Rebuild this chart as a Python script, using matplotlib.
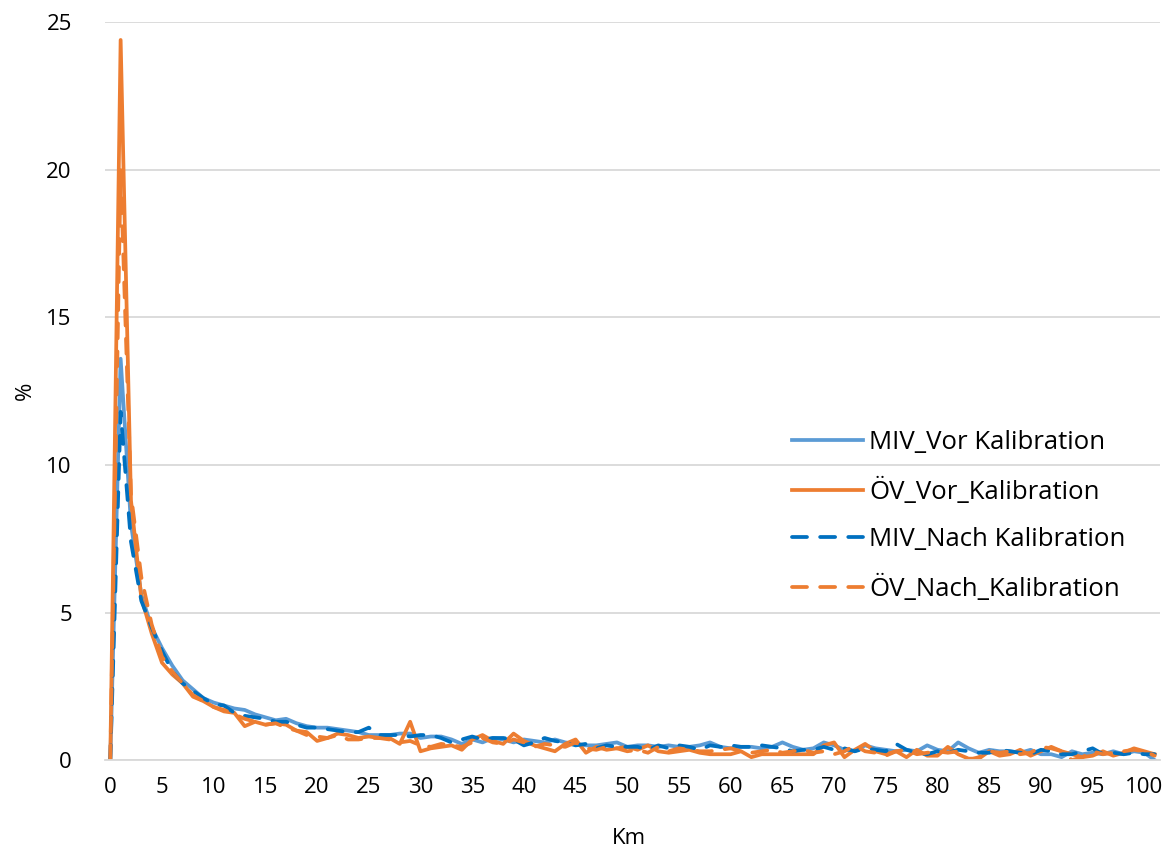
import matplotlib
matplotlib.use("Agg")
import matplotlib.pyplot as plt
import numpy as np

plt.rcParams['font.family'] = ['Open Sans', 'DejaVu Sans']

km = list(range(0, 102))

miv_vor = [0, 13.6, 8.0, 5.6, 4.5, 3.8, 3.2, 2.7, 2.4, 2.1, 1.95, 1.85, 1.75, 1.7, 1.55, 1.45, 1.35, 1.4, 1.25, 1.15,
           1.1, 1.1, 1.05, 1.0, 0.95, 0.85, 0.85, 0.85, 0.9, 0.9, 0.75, 0.8, 0.8, 0.7, 0.55, 0.7, 0.6, 0.75, 0.7, 0.6,
           0.7, 0.65, 0.6, 0.7, 0.6, 0.55, 0.5, 0.5, 0.55, 0.6, 0.45, 0.5, 0.5, 0.45, 0.5, 0.45, 0.45, 0.5, 0.6, 0.45,
           0.4, 0.45, 0.45, 0.4, 0.45, 0.6, 0.45, 0.35, 0.4, 0.6, 0.5, 0.35, 0.3, 0.5, 0.4, 0.35, 0.3, 0.35, 0.3, 0.5,
           0.35, 0.3, 0.6, 0.4, 0.25, 0.35, 0.3, 0.3, 0.25, 0.35, 0.2, 0.2, 0.1, 0.3, 0.2, 0.25, 0.2, 0.3, 0.2, 0.3,
           0.25, 0.0]

ov_vor = [0, 24.4, 8.8, 5.5, 4.3, 3.3, 2.9, 2.6, 2.15, 2.0, 1.8, 1.65, 1.6, 1.15, 1.3, 1.2, 1.25, 1.2, 1.0, 0.95,
          0.65, 0.75, 0.9, 0.85, 0.75, 0.8, 0.75, 0.75, 0.55, 1.3, 0.3, 0.4, 0.45, 0.5, 0.35, 0.7, 0.85, 0.65, 0.55, 0.9,
          0.65, 0.5, 0.4, 0.3, 0.55, 0.7, 0.25, 0.45, 0.35, 0.4, 0.45, 0.35, 0.5, 0.3, 0.25, 0.3, 0.35, 0.25, 0.2, 0.2,
          0.2, 0.3, 0.1, 0.2, 0.2, 0.2, 0.2, 0.2, 0.2, 0.5, 0.6, 0.1, 0.35, 0.55, 0.3, 0.2, 0.3, 0.1, 0.35, 0.15,
          0.15, 0.45, 0.2, 0.05, 0.05, 0.3, 0.15, 0.2, 0.35, 0.15, 0.3, 0.45, 0.3, 0.2, 0.1, 0.15, 0.3, 0.15, 0.25, 0.4,
          0.3, 0.2]

miv_nach = [0, 11.8, 7.4, 5.4, 4.5, 3.7, 3.0, 2.6, 2.35, 2.1, 1.9, 1.85, 1.6, 1.5, 1.45, 1.4, 1.3, 1.3, 1.2, 1.1,
            1.1, 1.05, 1.0, 0.95, 0.95, 1.1, 0.85, 0.85, 0.85, 0.8, 0.85, 0.85, 0.75, 0.6, 0.7, 0.8, 0.7, 0.75, 0.75, 0.7,
            0.5, 0.6, 0.75, 0.65, 0.6, 0.5, 0.55, 0.4, 0.5, 0.45, 0.45, 0.45, 0.35, 0.5, 0.4, 0.5, 0.45, 0.35, 0.5, 0.45,
            0.5, 0.45, 0.45, 0.5, 0.45, 0.4, 0.3, 0.35, 0.35, 0.45, 0.35, 0.4, 0.3, 0.4, 0.35, 0.3, 0.55, 0.35, 0.25, 0.2,
            0.3, 0.25, 0.35, 0.3, 0.25, 0.25, 0.35, 0.3, 0.25, 0.2, 0.35, 0.3, 0.2, 0.2, 0.3, 0.4, 0.2, 0.25, 0.2, 0.25,
            0.2, 0.2]

ov_nach = [0, 20.0, 9.0, 6.2, 4.6, 3.5, 3.0, 2.6, 2.2, 2.0, 1.8, 1.7, 1.55, 1.4, 1.3, 1.2, 1.25, 1.1, 1.0, 0.85,
           0.8, 0.75, 0.85, 0.7, 0.7, 0.75, 0.75, 0.7, 0.6, 0.65, 0.5, 0.45, 0.55, 0.5, 0.45, 0.6, 0.75, 0.6, 0.55, 0.7,
           0.6, 0.45, 0.55, 0.5, 0.45, 0.6, 0.4, 0.35, 0.45, 0.4, 0.3, 0.35, 0.25, 0.45, 0.3, 0.4, 0.35, 0.3, 0.3, 0.35,
           0.4, 0.3, 0.25, 0.3, 0.35, 0.25, 0.3, 0.35, 0.25, 0.3, 0.2, 0.3, 0.5, 0.3, 0.25, 0.15, 0.3, 0.35, 0.2, 0.25,
           0.3, 0.25, 0.3, 0.0, 0.1, 0.3, 0.25, 0.3, 0.2, 0.25, 0.45, 0.4, 0.3, 0.0, 0.1, 0.3, 0.2, 0.25, 0.3, 0.35,
           0.3, 0.15]

series_names = ["MIV_Vor Kalibration", "ÖV_Vor_Kalibration", "MIV_Nach Kalibration", "ÖV_Nach_Kalibration"]
x_ticks = list(range(0, 101, 5))
y_ticks = [0, 5, 10, 15, 20, 25]

fig = plt.figure(figsize=(11.68, 8.56), dpi=100)
ax = fig.add_axes([0.09, 0.112, 0.903, 0.862])

lw = 2.7
dash = (0, (4, 3.5))
ax.plot(km, miv_vor, color="#5B9BD5", lw=lw, label=series_names[0], solid_joinstyle="round")
ax.plot(km, ov_vor, color="#ED7D31", lw=lw, label=series_names[1], solid_joinstyle="round")
ax.plot(km, miv_nach, color="#0070C0", lw=lw, ls=dash, label=series_names[2], dash_capstyle="round")
ax.plot(km, ov_nach, color="#ED7D31", lw=lw, ls=dash, label=series_names[3], dash_capstyle="round")

ax.set_xlim(-0.5, 101.5)
ax.set_ylim(0, 25)
ax.set_xticks(x_ticks)
ax.set_yticks(y_ticks)
ax.tick_params(axis="both", length=0, labelsize=16, colors="#000000")
ax.tick_params(axis="x", pad=12)
ax.tick_params(axis="y", pad=24)
ax.yaxis.grid(True, color="#D9D9D9", lw=1.3)
ax.set_axisbelow(True)
for s in ["top", "right", "left"]:
    ax.spines[s].set_visible(False)
ax.spines["bottom"].set_color("#D9D9D9")
ax.spines["bottom"].set_linewidth(1.3)

ax.set_xlabel("Km", fontsize=16)
ax.set_ylabel("%", fontsize=16)
ax.xaxis.set_label_coords(0.497, -0.092)
ax.yaxis.set_label_coords(-0.066, 0.5)

leg = ax.legend(loc="center left", bbox_to_anchor=(0.658, 0.397), bbox_transform=fig.transFigure,
                frameon=False, fontsize=18.5, handlelength=2.77, handletextpad=0.25, labelspacing=0.88)

fig.savefig("out.png", dpi=100)
